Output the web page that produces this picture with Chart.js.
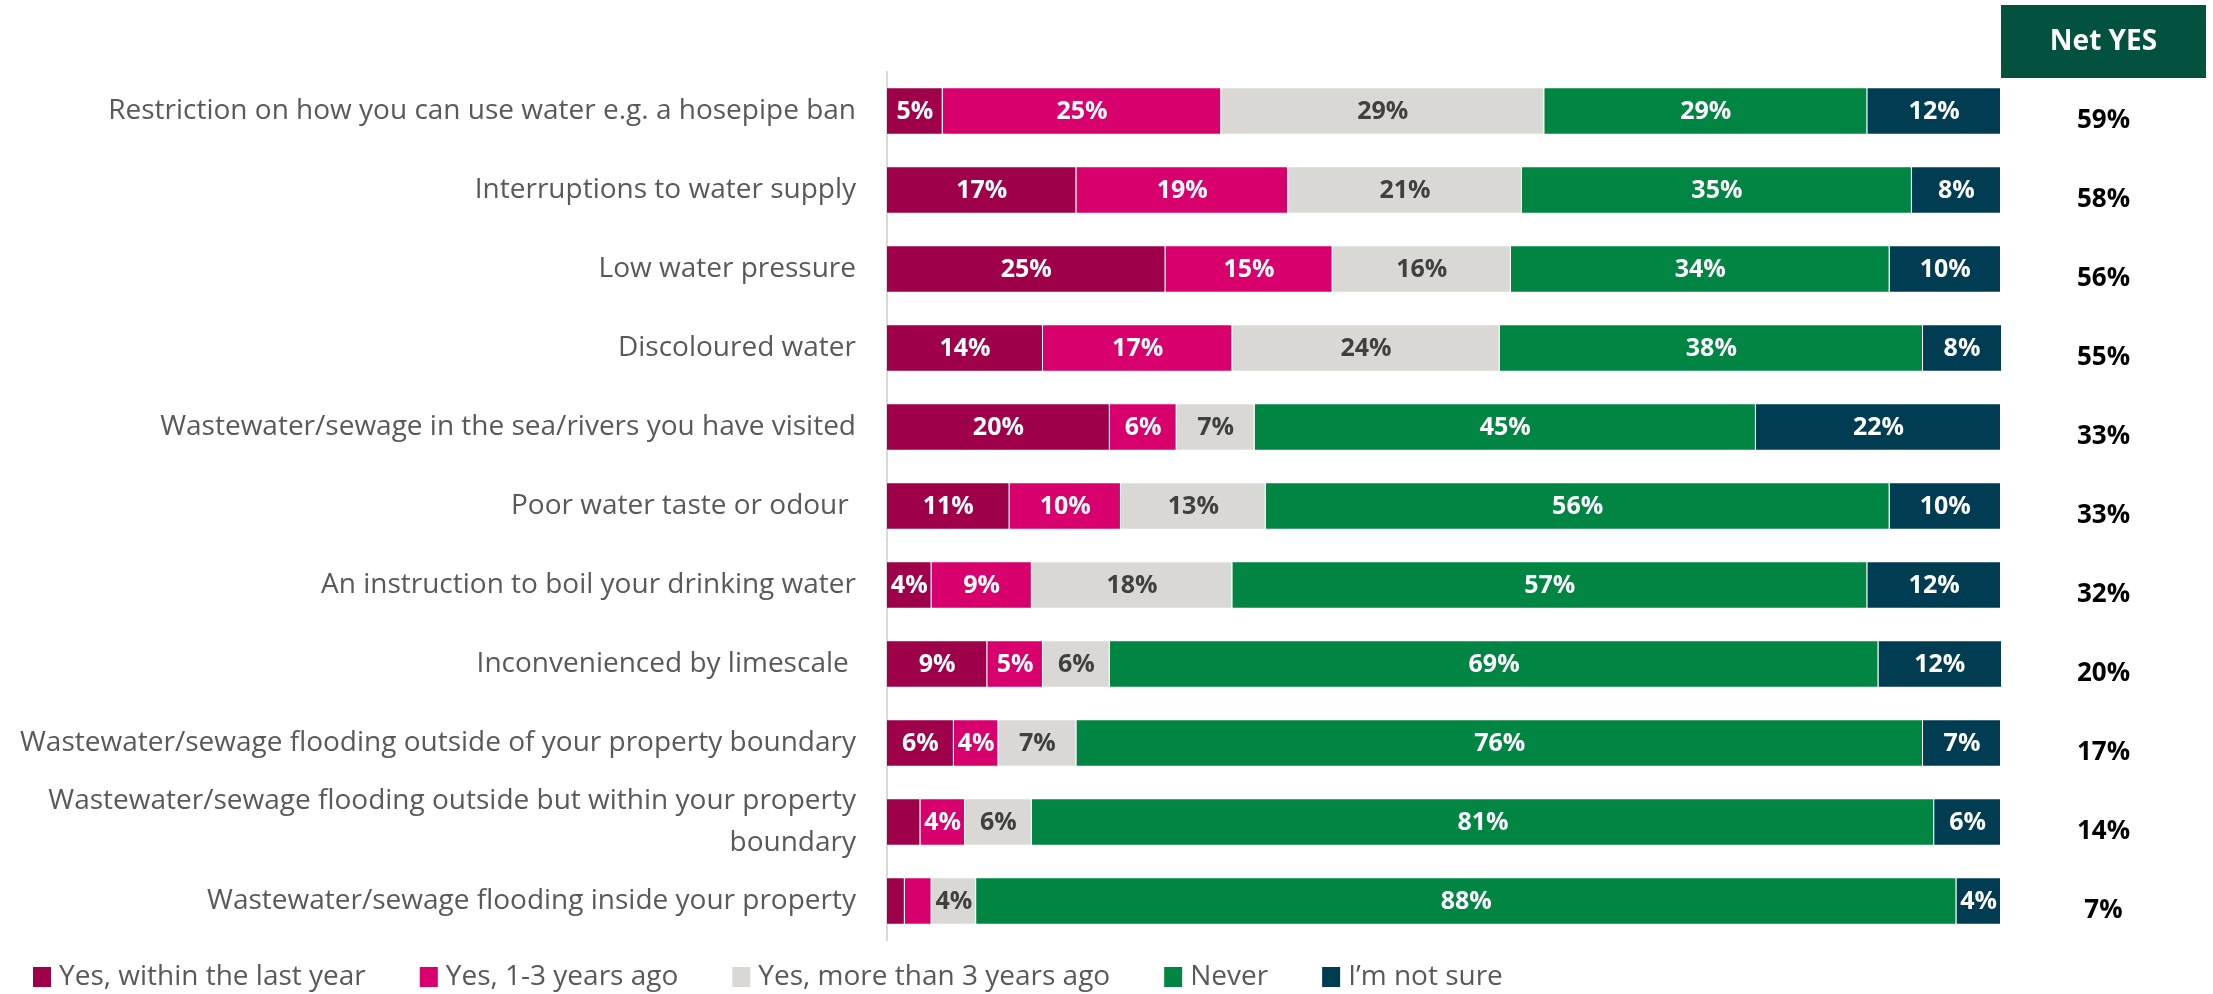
<!DOCTYPE html>
<html>
<head>
<meta charset="utf-8">
<script src="https://cdn.jsdelivr.net/npm/chart.js@4.4.1/dist/chart.umd.min.js"></script>
<style>
  html, body { margin: 0; padding: 0; background: #fff; }
  canvas { display: block; }
</style>
</head>
<body>
<canvas id="experienceChart" width="2213" height="994"></canvas>
<script>
const categories = [
  'Restriction on how you can use water e.g. a hosepipe ban',
  'Interruptions to water supply',
  'Low water pressure',
  'Discoloured water',
  'Wastewater/sewage in the sea/rivers you have visited',
  'Poor water taste or odour ',
  'An instruction to boil your drinking water',
  'Inconvenienced by limescale ',
  'Wastewater/sewage flooding outside of your property boundary',
  ['Wastewater/sewage flooding outside but within your property', 'boundary'],
  'Wastewater/sewage flooding inside your property'
];

const seriesNames = ['Yes, within the last year', 'Yes, 1-3 years ago', 'Yes, more than 3 years ago', 'Never', 'I\u2019m not sure'];

const withinLastYear = [5, 17, 25, 14, 20, 11, 4, 9, 6, 3, 1.6];
const oneToThreeYears = [25, 19, 15, 17, 6, 10, 9, 5, 4, 4, 2.4];
const moreThanThreeYears = [29, 21, 16, 24, 7, 13, 18, 6, 7, 6, 4];
const never = [29, 35, 34, 38, 45, 56, 57, 69, 76, 81, 88];
const notSure = [12, 8, 10, 8, 22, 10, 12, 12, 7, 6, 4];

const netYes = [59, 58, 56, 55, 33, 33, 32, 20, 17, 14, 7];

const colours = ['#9E0049', '#D7006D', '#D9D8D4', '#008542', '#003D52'];
const FONT = '"Open Sans", "Liberation Sans", sans-serif';

const seriesData = [withinLastYear, oneToThreeYears, moreThanThreeYears, never, notSure];

// segment values, Net YES column and the legend row
const overlayPlugin = {
  id: 'overlay',
  afterDatasetsDraw(chart) {
    const ctx = chart.ctx;
    const area = chart.chartArea;
    const yScale = chart.scales.y;
    ctx.save();
    ctx.textAlign = 'center';
    ctx.textBaseline = 'middle';
    ctx.font = 'bold 25px ' + FONT;
    chart.data.datasets.forEach((ds, i) => {
      const meta = chart.getDatasetMeta(i);
      meta.data.forEach((bar, j) => {
        const v = ds.data[j];
        if (v < 4) return;
        const right = Math.min(bar.x, area.right);
        ctx.fillStyle = i === 2 ? '#404040' : '#ffffff';
        ctx.fillText(v + '%', (bar.base + right) / 2, bar.y + 1);
      });
    });

    // Net YES header and values
    const colLeft = area.right;
    const colRight = colLeft + 205;
    const colMid = (colLeft + colRight) / 2;
    ctx.fillStyle = '#03513F';
    ctx.fillRect(colLeft, 5, colRight - colLeft, 73);
    ctx.fillStyle = '#ffffff';
    ctx.font = 'bold 28px ' + FONT;
    ctx.fillText('Net YES', colMid, 42);
    ctx.fillStyle = '#000000';
    ctx.font = 'bold 26px ' + FONT;
    netYes.forEach((v, j) => {
      ctx.fillText(v + '%', colMid, yScale.getPixelForValue(j) + 10);
    });

    // legend
    ctx.textAlign = 'left';
    ctx.font = '28px ' + FONT;
    let x = 33;
    const ly = 977;
    chart.data.datasets.forEach((ds) => {
      ctx.fillStyle = ds.backgroundColor;
      ctx.fillRect(x, ly - 10, 18, 20);
      ctx.fillStyle = '#595959';
      ctx.fillText(ds.label, x + 26, ly);
      x += 26 + ctx.measureText(ds.label).width + 54;
    });
    ctx.restore();
  }
};

new Chart(document.getElementById('experienceChart'), {
  type: 'bar',
  data: {
    labels: categories,
    datasets: seriesData.map((d, i) => ({
      label: seriesNames[i],
      data: d,
      backgroundColor: colours[i],
      borderColor: 'rgba(255,255,255,0.45)',
      borderWidth: 1,
      barPercentage: 0.6,
      categoryPercentage: 1
    }))
  },
  options: {
    indexAxis: 'y',
    responsive: false,
    animation: false,
    layout: { padding: { left: 0, right: 212, top: 71.5, bottom: 53.5 } },
    plugins: {
      legend: { display: false },
      tooltip: { enabled: false }
    },
    scales: {
      x: {
        stacked: true,
        min: 0,
        max: 100,
        display: false
      },
      y: {
        stacked: true,
        afterFit(scale) { scale.width = 887; },
        grid: { display: false, drawTicks: false },
        border: { display: true, color: '#D9D9D9', width: 2 },
        ticks: {
          autoSkip: false,
          color: '#595959',
          padding: 31,
          font: { family: FONT, size: 28, lineHeight: 1.47 }
        }
      }
    }
  },
  plugins: [overlayPlugin]
});
</script>
</body>
</html>
